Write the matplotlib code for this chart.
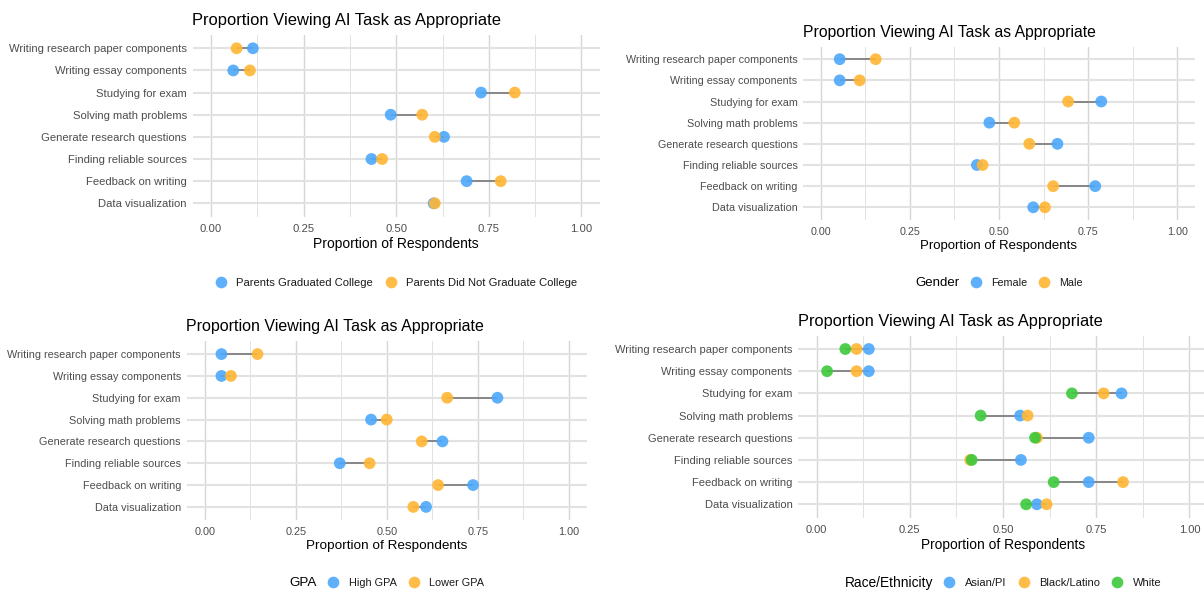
import matplotlib
matplotlib.use("Agg")
import matplotlib.pyplot as plt
import numpy as np
from matplotlib.lines import Line2D

plt.rcParams['font.family'] = ['Liberation Sans', 'DejaVu Sans']

# ---- data -------------------------------------------------------------
tasks = [
    "Writing research paper components",
    "Writing essay components",
    "Studying for exam",
    "Solving math problems",
    "Generate research questions",
    "Finding reliable sources",
    "Feedback on writing",
    "Data visualization",
]

parents_grad = [0.113, 0.060, 0.729, 0.485, 0.629, 0.433, 0.690, 0.601]
parents_not_grad = [0.069, 0.105, 0.820, 0.570, 0.604, 0.462, 0.782, 0.604]

female = [0.053, 0.053, 0.787, 0.473, 0.664, 0.438, 0.770, 0.596]
male = [0.154, 0.109, 0.694, 0.543, 0.585, 0.454, 0.652, 0.629]

high_gpa = [0.046, 0.046, 0.804, 0.457, 0.653, 0.371, 0.737, 0.608]
lower_gpa = [0.145, 0.072, 0.666, 0.500, 0.596, 0.453, 0.641, 0.573]

asian_pi = [0.140, 0.140, 0.818, 0.546, 0.730, 0.548, 0.730, 0.591]
black_latino = [0.107, 0.107, 0.770, 0.566, 0.591, 0.412, 0.822, 0.617]
white = [0.077, 0.028, 0.685, 0.440, 0.586, 0.416, 0.636, 0.562]

x_ticks = [0.0, 0.25, 0.5, 0.75, 1.0]
x_tick_labels = ["0.00", "0.25", "0.50", "0.75", "1.00"]
x_minor = [0.125, 0.375, 0.625, 0.875]

title_text = "Proportion Viewing AI Task as Appropriate"
x_label = "Proportion of Respondents"

BLUE = "#4DA8FA"
ORANGE = "#FFB634"
GREEN = "#3CC93C"

# ---- figure -----------------------------------------------------------
W, H = 1204, 592
fig = plt.figure(figsize=(W / 100, H / 100), dpi=100)
fig.patch.set_facecolor("white")


def px_axes(left, right, top, bottom):
    return fig.add_axes([left / W, 1 - bottom / H, (right - left) / W, (bottom - top) / H])


def draw_panel(box, series, legend_y, legend_title=None, scale=1.0, title_pad=7.2):
    ax = px_axes(*box)
    ypos = np.arange(1, len(tasks) + 1)
    ax.set_xlim(-0.05, 1.05)
    ax.set_ylim(len(tasks) + 0.6, 0.4)

    # grid
    for xv in x_ticks:
        ax.axvline(xv, color="#d6d6d6", lw=1.0, zorder=0)
    for xv in x_minor:
        ax.axvline(xv, color="#e2e2e2", lw=0.7, zorder=0)
    for yv in ypos:
        ax.axhline(yv, color="#e2e2e2", lw=1.5, zorder=0)

    # connecting segments from min to max of all groups
    vals = np.vstack([np.asarray(v) for v, _, _ in series])
    ax.hlines(ypos, vals.min(axis=0), vals.max(axis=0), color="#6e6e6e", lw=1.1, zorder=2)

    handles, labels = [], []
    for v, color, lab in series:
        ax.scatter(v, ypos, s=72, color=color, alpha=0.9, edgecolors="none", zorder=3)
        handles.append(Line2D([], [], ls="none", marker="o", markersize=8.4,
                              markerfacecolor=color, markeredgecolor="none", alpha=0.9))
        labels.append(lab)

    for sp in ax.spines.values():
        sp.set_visible(False)
    ax.set_yticks(ypos)
    ax.set_yticklabels(tasks, fontsize=8.1 * scale, color="#4d4d4d")
    ax.set_xticks(x_ticks)
    ax.set_xticklabels(x_tick_labels, fontsize=8.1 * scale, color="#4d4d4d")
    ax.tick_params(length=0, axis="y", pad=4.0)
    ax.tick_params(length=0, axis="x", pad=5.0)
    ax.set_xlabel(x_label, fontsize=10.0 * scale, color="black", labelpad=2.2)
    ax.set_title(title_text, loc="left", fontsize=11.9 * scale, color="black", pad=title_pad)

    # legend below the panel, centred on it
    cx = (box[0] + box[1]) / 2
    fs = 8.1 * scale
    leg = ax.legend(handles, labels, loc="center", ncol=len(labels), frameon=False,
                    bbox_to_anchor=(cx / W, 1 - legend_y / H), bbox_transform=fig.transFigure,
                    fontsize=fs, handlelength=1.0, handletextpad=0.9, columnspacing=1.05,
                    borderpad=0, borderaxespad=0)
    for t in leg.get_texts():
        t.set_color("#1a1a1a")

    if legend_title is not None:
        renderer = fig.canvas.get_renderer()
        ttl = fig.text(0, 1 - legend_y / H, legend_title, fontsize=10.0 * scale,
                       color="black", ha="left", va="center")
        tw = ttl.get_window_extent(renderer).width
        lw = leg.get_window_extent(renderer).width
        gap = 11.0
        left = cx - (tw + gap + lw) / 2
        ttl.set_x(left / W)
        leg.set_bbox_to_anchor(((left + tw + gap) / W, 1 - legend_y / H), transform=fig.transFigure)
        leg._loc = 6  # center left
    return ax


draw_panel((192.5, 600, 35, 216.6),
           [(parents_grad, BLUE, "Parents Graduated College"),
            (parents_not_grad, ORANGE, "Parents Did Not Graduate College")],
           legend_y=282.5, scale=1.0, title_pad=7.2)

draw_panel((803, 1195, 46.5, 220),
           [(female, BLUE, "Female"), (male, ORANGE, "Male")],
           legend_y=282.5, legend_title="Gender", scale=0.955, title_pad=6.8)

draw_panel((186.5, 587, 341, 520),
           [(high_gpa, BLUE, "High GPA"), (lower_gpa, ORANGE, "Lower GPA")],
           legend_y=583.3, legend_title="GPA", scale=0.97, title_pad=7.0)

draw_panel((798, 1208, 335.7, 517.6),
           [(asian_pi, BLUE, "Asian/PI"), (black_latino, ORANGE, "Black/Latino"),
            (white, GREEN, "White")],
           legend_y=582.7, legend_title="Race/Ethnicity", scale=0.99, title_pad=7.2)

fig.savefig("out.png", dpi=100, facecolor="white")
